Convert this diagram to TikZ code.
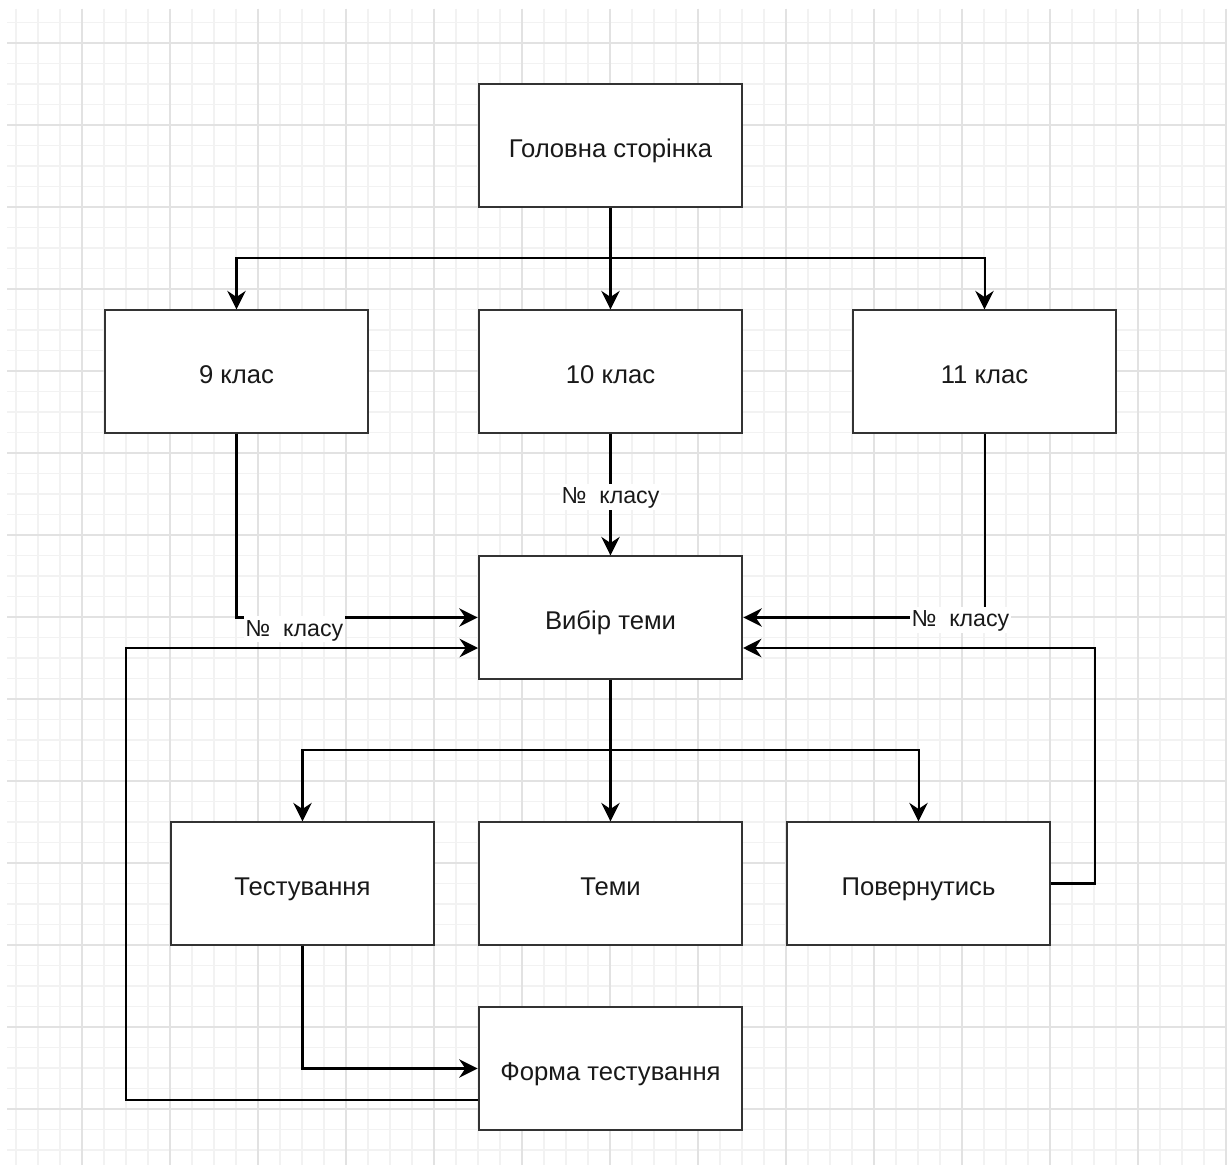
\documentclass[tikz,border=0pt]{standalone}
\usepackage{fontspec}
\setmainfont{Liberation Sans}
\usetikzlibrary{arrows.meta}
\usetikzlibrary{calc}

\definecolor{gridmin}{HTML}{F2F2F2}
\definecolor{gridmaj}{HTML}{E2E2E2}
\definecolor{rama}{HTML}{333333}

\tikzset{
  blok/.style={draw=rama, line width=1.1pt, fill=white, minimum width=150.2pt, minimum height=69.7pt, inner sep=0pt, text height=13.3pt, text depth=0pt, font=\fontsize{14.6}{17}\selectfont, text=black!90},
  lbl/.style={fill=white, inner sep=1pt, text height=10.5pt, text depth=2.2pt, yshift=-1.2pt, font=\fontsize{13.2}{15}\selectfont, text=black!90},
  zv/.style={line width=1.15pt, >={Stealth[length=10.5pt,width=10.5pt,inset=3.5pt]}}
}

\begin{document}
\begin{tikzpicture}[x=0.02cm, y=-0.02cm]
\useasboundingbox (0,0) rectangle (1227,1165);
\fill[white] (0,0) rectangle (1227,1165);
\begin{scope}
\clip (7,9) rectangle (1227,1165);
\foreach \i in {-3,...,52} \draw[gridmin, line width=0.9pt] ({82+22*\i},9) -- ({82+22*\i},1165);
\foreach \j in {-1,...,55} \draw[gridmin, line width=0.9pt] (7,{43+20.5*\j}) -- (1227,{43+20.5*\j});
\foreach \i in {0,...,13} \draw[gridmaj, line width=0.9pt] ({82+88*\i},9) -- ({82+88*\i},1165);
\foreach \j in {0,...,13} \draw[gridmaj, line width=0.9pt] (7,{43+82*\j}) -- (1227,{43+82*\j});
\end{scope}

\node[blok] (main) at (610.5,145.5) {Головна сторінка};
\node[blok] (k9) at (236.5,371.5) {9 клас};
\node[blok] (k10) at (610.5,371.5) {10 клас};
\node[blok] (k11) at (984.5,371.5) {11 клас};
\node[blok] (vybir) at (610.5,617.5) {Вибір теми};
\node[blok] (test) at (302.5,883.5) {Тестування};
\node[blok] (temy) at (610.5,883.5) {Теми};
\node[blok] (povern) at (918.5,883.5) {Повернутись};
\node[blok] (forma) at (610.5,1068.5) {Форма тестування};

\coordinate (bus1) at (610.5,258);
\coordinate (bus2) at (610.5,750);
\coordinate (vR) at (743,648);
\coordinate (vL) at (478,648);
\coordinate (fL) at (478,1100);
\coordinate (lv) at (126,1100);
\coordinate (pv) at (1095,883.5);

\draw[zv] (main.south) -- (bus1);
\draw[zv, ->] (bus1) -| (k9.north);
\draw[zv, ->] (bus1) -- (k10.north);
\draw[zv, ->] (bus1) -| (k11.north);

\draw[zv, ->] (k10.south) -- node[lbl] {№\ \ класу} (vybir.north);
\draw[zv, ->] (k9.south) |- node[lbl, pos=0.62, yshift=-5.4pt] {№\ \ класу} (vybir.west);
\draw[zv, ->] (k11.south) |- node[lbl, pos=0.55] {№\ \ класу} (vybir.east);

\draw[zv] (vybir.south) -- (bus2);
\draw[zv, ->] (bus2) -| (test.north);
\draw[zv, ->] (bus2) -- (temy.north);
\draw[zv, ->] (bus2) -| (povern.north);

\draw[zv, ->] (povern.east) -- (pv) |- (vR);
\draw[zv, ->] (test.south) |- (forma.west);
\draw[zv, ->] (fL) -- (lv) |- (vL);

\end{tikzpicture}
\end{document}
